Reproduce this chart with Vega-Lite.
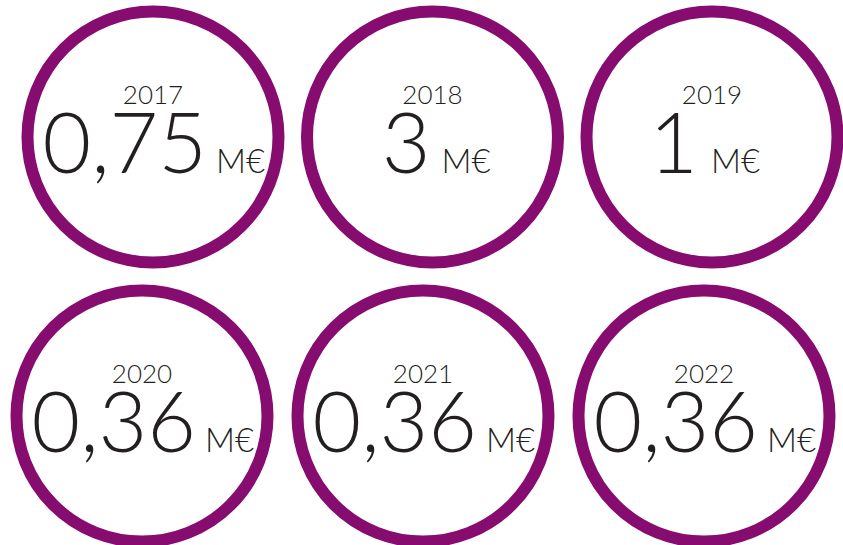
{
  "$schema": "https://vega.github.io/schema/vega-lite/v6.json",
  "width": 843,
  "height": 545,
  "autosize": "none",
  "padding": 0,
  "background": "white",
  "config": {"view": {"stroke": null}},
  "data": {
    "values": [
      {"year": "2017", "amount": "0,75", "unit": "M€", "col": 1, "row": 1},
      {"year": "2018", "amount": "3", "unit": "M€", "col": 2, "row": 1},
      {"year": "2019", "amount": "1", "unit": "M€", "col": 3, "row": 1},
      {"year": "2020", "amount": "0,36", "unit": "M€", "col": 1, "row": 2},
      {"year": "2021", "amount": "0,36", "unit": "M€", "col": 2, "row": 2},
      {"year": "2022", "amount": "0,36", "unit": "M€", "col": 3, "row": 2}
    ]
  },
  "resolve": {"scale": {"x": "independent"}},
  "layer": [
    {
      "transform": [{"filter": "datum.row == 1"}],
      "encoding": {
        "x": {"field": "col", "type": "quantitative", "scale": {"domain": [0.4526, 3.4687], "nice": false, "zero": false}, "axis": null},
        "y": {"field": "row", "type": "quantitative", "scale": {"domain": [0.509, 2.462], "nice": false, "zero": false, "reverse": true}, "axis": null}
      },
      "layer": [
        {"mark": {"type": "point", "shape": "circle", "filled": false, "size": 63000, "color": "#860c6f", "strokeWidth": 12, "opacity": 1}},
        {
          "mark": {"type": "text", "font": "Lato", "fontWeight": 300, "fontSize": 26, "color": "#231f20", "align": "center", "baseline": "alphabetic", "dy": -33},
          "encoding": {"text": {"field": "year"}}
        },
        {
          "mark": {"type": "text", "font": "Lato", "fontWeight": 300, "fontSize": 84, "color": "#231f20", "align": "right", "baseline": "alphabetic", "dy": 36,
            "dx": {"expr": "datum.amount == '1' ? -14 : datum.amount == '3' ? -2 : 54"}},
          "encoding": {"text": {"field": "amount"}}
        },
        {
          "mark": {"type": "text", "font": "Lato", "fontWeight": 300, "fontSize": 33, "color": "#231f20", "align": "left", "baseline": "alphabetic", "dy": 36,
            "dx": {"expr": "datum.amount == '1' ? -1 : datum.amount == '3' ? 9 : 63"}},
          "encoding": {"text": {"field": "unit"}}
        }
      ]
    },
    {
      "transform": [{"filter": "datum.row == 2"}],
      "encoding": {
        "x": {"field": "col", "type": "quantitative", "scale": {"domain": [0.4947, 3.4947], "nice": false, "zero": false}, "axis": null},
        "y": {"field": "row", "type": "quantitative", "scale": {"domain": [0.509, 2.462], "nice": false, "zero": false, "reverse": true}, "axis": null}
      },
      "layer": [
        {"mark": {"type": "point", "shape": "circle", "filled": false, "size": 63000, "color": "#860c6f", "strokeWidth": 12, "opacity": 1}},
        {
          "mark": {"type": "text", "font": "Lato", "fontWeight": 300, "fontSize": 26, "color": "#231f20", "align": "center", "baseline": "alphabetic", "dy": -33},
          "encoding": {"text": {"field": "year"}}
        },
        {
          "mark": {"type": "text", "font": "Lato", "fontWeight": 300, "fontSize": 84, "color": "#231f20", "align": "right", "baseline": "alphabetic", "dy": 36, "dx": 54},
          "encoding": {"text": {"field": "amount"}}
        },
        {
          "mark": {"type": "text", "font": "Lato", "fontWeight": 300, "fontSize": 33, "color": "#231f20", "align": "left", "baseline": "alphabetic", "dy": 36, "dx": 63},
          "encoding": {"text": {"field": "unit"}}
        }
      ]
    }
  ]
}
